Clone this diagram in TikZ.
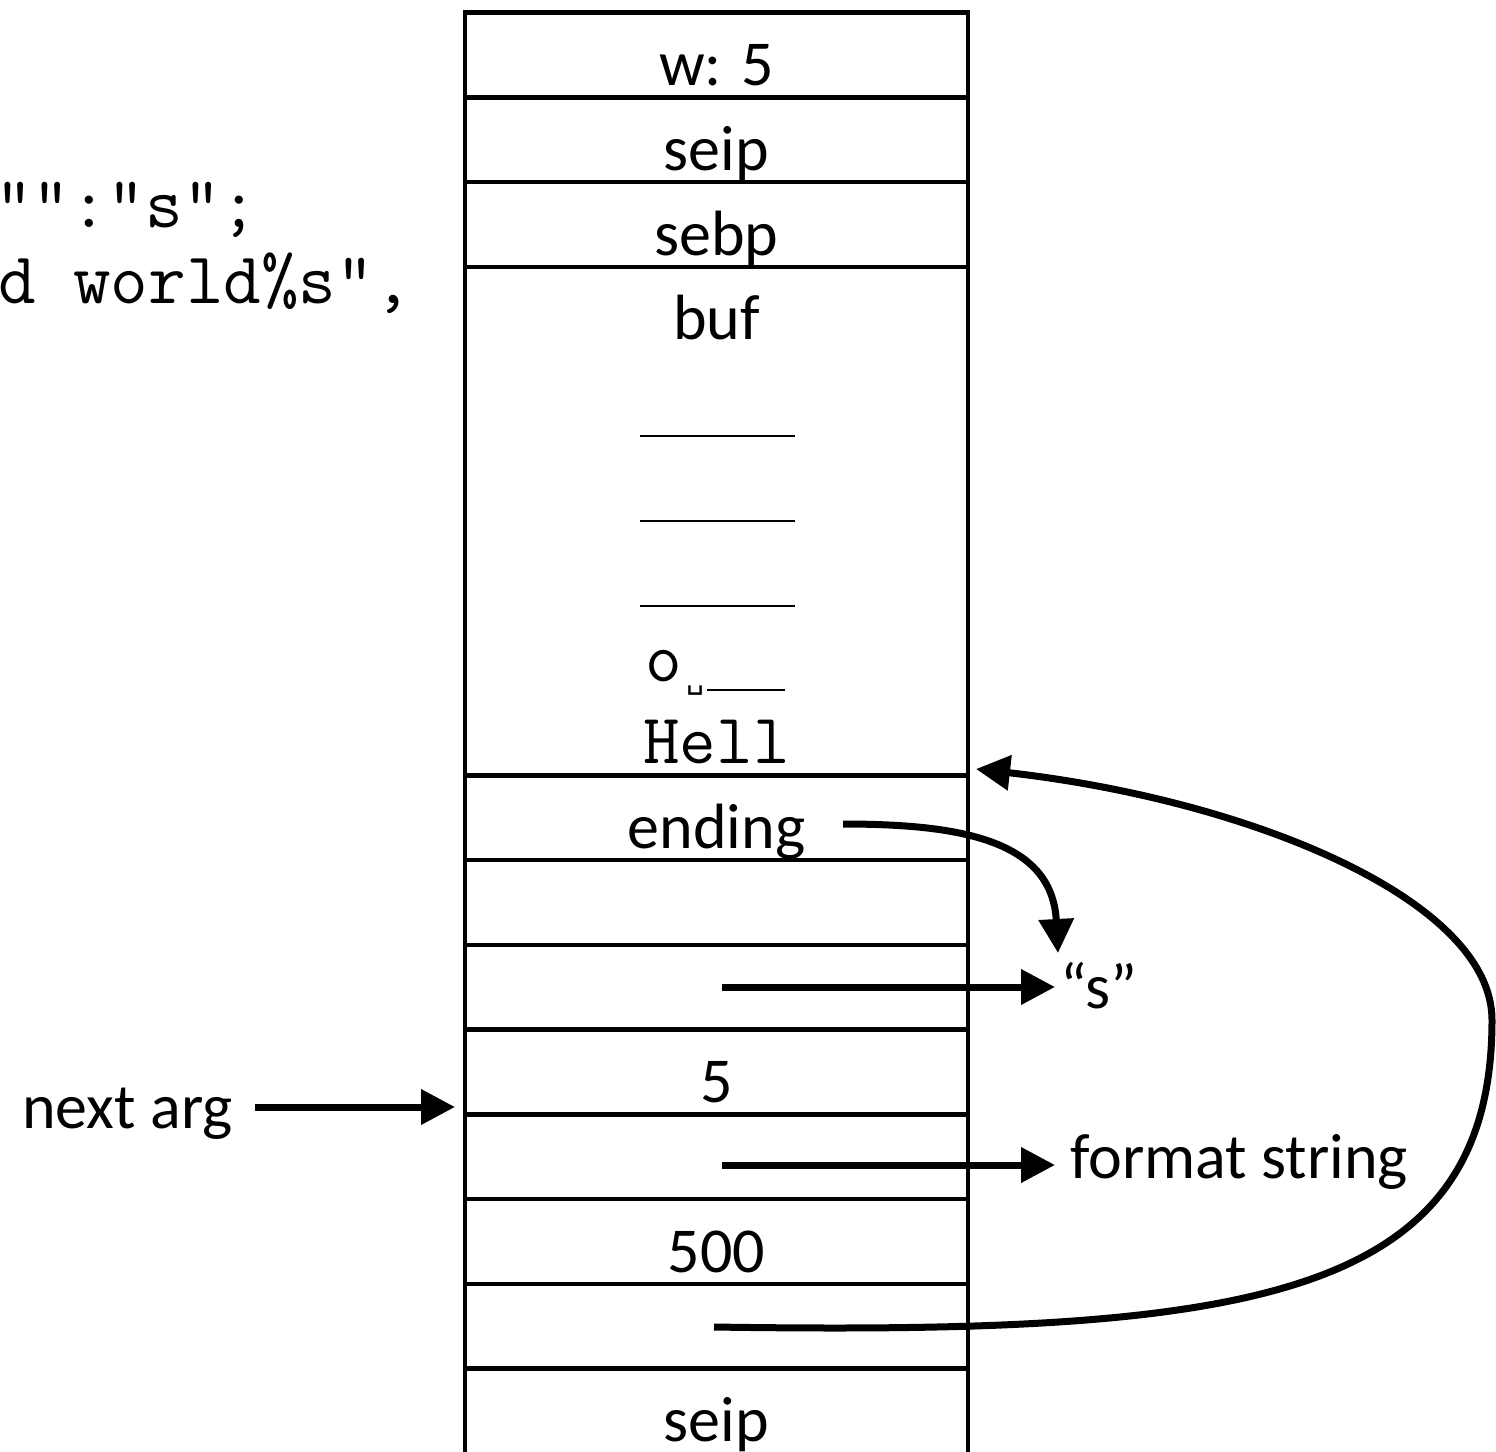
\documentclass[tikz,border=0pt]{standalone}
\usepackage{fontspec}
\setmainfont{Carlito}
\newfontfamily\vsfont{DejaVu Sans Mono}
\usetikzlibrary{arrows.meta}
\tikzset{
  grid/.style={line width=4.5pt, line cap=rect},
  uline/.style={line width=2.5pt},
  arr/.style={line width=7pt, -{Triangle[length=34pt,width=34pt]}},
  lbl/.style={font=\fontsize{64}{70}\selectfont, inner sep=0pt, anchor=base},
  code/.style={font=\ttfamily\fontsize{71}{76}\selectfont, inner sep=0pt, anchor=base},
  codeL/.style={font=\ttfamily\fontsize{73}{78}\selectfont, inner sep=0pt, anchor=base west},
  vsp/.style={font=\vsfont\fontsize{30}{34}\selectfont, inner sep=0pt, anchor=base west}
}
\begin{document}
\begin{tikzpicture}[x=1pt,y=-1pt]
\useasboundingbox (0,0) rectangle (1496,1451);
\clip (0,0) rectangle (1496,1451);
\fill[white] (0,0) rectangle (1496,1451);
% stack column
\draw[grid] (465,1470) -- (465,12.6) -- (968,12.6) -- (968,1470);
\foreach \k in {1,2,3,9,10,11,12,13,14,15,16}
  \draw[grid] (465,{12.6+84.75*\k}) -- (968,{12.6+84.75*\k});
% labels
\node[lbl] (w5) at (716.5,85) {w: 5};
\node[lbl] (seipA) at (716.5,170) {seip};
\node[lbl] (sebp) at (716.5,255) {sebp};
\node[lbl] (buf) at (716.5,339.5) {buf};
\draw[uline] (640,436) -- (795,436);
\draw[uline] (640,521) -- (795,521);
\draw[uline] (640,606) -- (795,606);
\node[code, anchor=base west] (o) at (645,681) {o};
\node[vsp] (vs) at (686,688) {␣};
\draw[uline] (707,690) -- (785,690);
\node[code] (hell) at (716.5,763) {Hell};
\node[lbl] (ending) at (716.5,848) {ending};
\node[lbl] (five) at (716.5,1102) {5};
\node[lbl] (fh) at (716.5,1272) {500};
\node[lbl] (seipB) at (716.5,1441) {seip};
\node[lbl, anchor=base west] (s) at (1060,1008) {“s”};
\node[lbl, anchor=base west] (fmt) at (1070,1178) {format string};
\node[lbl, anchor=base west] (next) at (22,1128) {next arg};
% code
\node[codeL] (c1) at (-5,227) {"":"s";};
\node[codeL] (c2) at (-2,303) {d world\%s",};
% connectors
\coordinate (naS) at (255,1107);
\coordinate (naE) at (455,1107);
\draw[arr] (naS) -- (naE);
\coordinate (sS) at (722,987);
\coordinate (sE) at (1055,987);
\draw[arr] (sS) -- (sE);
\coordinate (fS) at (722,1165);
\coordinate (fE) at (1055,1165);
\draw[arr] (fS) -- (fE);
\coordinate (eS) at (843,824);
\coordinate (eE) at (1058,953);
\draw[arr] (eS) .. controls (960,824) and (1052,840) .. (eE);
\coordinate (bS) at (714,1327);
\coordinate (bM) at (1492,1020);
\coordinate (bE) at (976,769);
\draw[arr] (bS) .. controls (1250,1335) and (1492,1300) .. (bM)
  .. controls (1492,900) and (1250,800) .. (bE);
\end{tikzpicture}
\end{document}
